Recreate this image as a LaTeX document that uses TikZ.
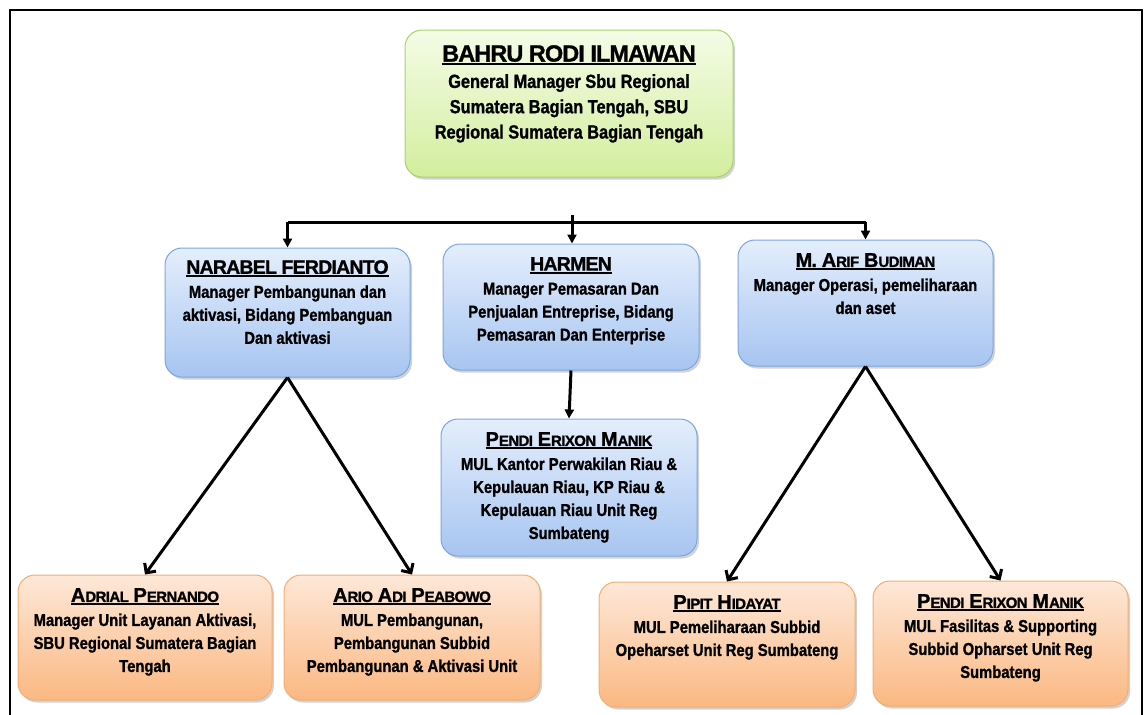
\documentclass[tikz,border=0pt]{standalone}
\usepackage{fontspec}
\setmainfont{Liberation Sans}
\newfontfamily\narf{Liberation Sans}[FakeStretch=0.86,FakeBold=1.2]
\newfontfamily\namef{Liberation Sans}[LetterSpace=-4,FakeBold=1.2]
\usetikzlibrary{arrows.meta,shadows}
\definecolor{bluetop}{HTML}{E4EEFC}
\definecolor{bluebot}{HTML}{A7C5F1}
\definecolor{blueline}{HTML}{7EA6DE}
\definecolor{greentop}{HTML}{F4FCE7}
\definecolor{greenbot}{HTML}{D3EE9E}
\definecolor{greenline}{HTML}{A9D36E}
\definecolor{orangetop}{HTML}{FDE8D8}
\definecolor{orangebot}{HTML}{FBB882}
\definecolor{orangeline}{HTML}{F3AE72}
\newcommand\nm[1]{{\setbox0\hbox{#1}\vtop{\copy0\kern1.2pt\hrule height1.8pt width\wd0}}}
\newcommand\smc[1]{{\fontsize{15}{15}\selectfont #1}}
\newcommand\bigname{\namef\fontsize{20}{20}\selectfont}
\begin{document}
\begin{tikzpicture}[x=1pt,y=-1pt,
  box/.style={rectangle, rounded corners=17pt, line width=1pt, inner sep=0pt,
    drop shadow={opacity=0.35, shadow xshift=2pt, shadow yshift=-2.5pt}},
  bluebox/.style={box, draw=blueline, top color=bluetop, bottom color=bluebot},
  greenbox/.style={box, draw=greenline, top color=greentop, bottom color=greenbot},
  orangebox/.style={box, draw=orangeline, top color=orangetop, bottom color=orangebot},
  txt/.style={align=center, inner sep=0pt, anchor=north,
    font=\narf\bfseries\fontsize{17.2}{23}\selectfont},
  toptxt/.style={txt, font=\narf\bfseries\fontsize{19}{25.3}\selectfont},
  conn/.style={line width=3pt, draw=black, line join=miter},
  varrow/.style={conn, -{Triangle[length=9pt,width=9pt]}},
  darrow/.style={conn, -{Straight Barb[length=7pt,width=14pt,line width=3pt]}}
]
\useasboundingbox (0,0) rectangle (1144,715);
\fill[white] (0,0) rectangle (1144,715);
% frame
\draw[line width=1.8pt] (10,716) -- (10,10) -- (1142,10) -- (1142,716);

% boxes
\node[greenbox, minimum width=328pt, minimum height=147pt] (top) at (569,103.5) {};
\node[bluebox, minimum width=245pt, minimum height=129pt] (nar) at (287.5,312.5) {};
\node[bluebox, minimum width=256pt, minimum height=126pt] (har) at (571,307) {};
\node[bluebox, minimum width=255pt, minimum height=126pt] (arif) at (865.5,303) {};
\node[bluebox, minimum width=256pt, minimum height=137pt] (pmid) at (569,487.5) {};
\node[orangebox, minimum width=254pt, minimum height=125pt] (adr) at (145,637.5) {};
\node[orangebox, minimum width=256pt, minimum height=125pt] (ario) at (412,637.5) {};
\node[orangebox, minimum width=256pt, minimum height=125pt] (pipit) at (727,644.5) {};
\node[orangebox, minimum width=255pt, minimum height=125pt] (pright) at (1000.5,643.5) {};

% texts
\node[toptxt] (topt) at (569,45) {\nm{\namef\fontsize{23.5}{23.5}\selectfont BAHRU RODI ILMAWAN}\\[1pt]
  General Manager Sbu Regional\\ Sumatera Bagian Tengah, SBU\\ Regional Sumatera Bagian Tengah};
\node[txt] (nart) at (287.5,260) {\nm{\namef\fontsize{19.5}{19.5}\selectfont NARABEL FERDIANTO}\\[1pt]
  Manager Pembangunan dan\\ aktivasi, Bidang Pembanguan\\ Dan aktivasi};
\node[txt] (hart) at (571,257) {\nm{\namef\fontsize{19.5}{19.5}\selectfont HARMEN}\\[1pt]
  Manager Pemasaran Dan\\ Penjualan Entreprise, Bidang\\ Pemasaran Dan Enterprise};
\node[txt] (arift) at (865.5,253) {\nm{\bigname M. A\smc{RIF} B\smc{UDIMAN}}\\[1pt]
  Manager Operasi, pemeliharaan\\ dan aset};
\node[txt] (pmidt) at (569,432) {\nm{\bigname P\smc{ENDI} E\smc{RIXON} M\smc{ANIK}}\\[1pt]
  MUL Kantor Perwakilan Riau \&\\ Kepulauan Riau, KP Riau \&\\ Kepulauan Riau Unit Reg\\ Sumbateng};
\node[txt] (adrt) at (145,588) {\nm{\bigname A\smc{DRIAL} P\smc{ERNANDO}}\\[1pt]
  Manager Unit Layanan Aktivasi,\\ SBU Regional Sumatera Bagian\\ Tengah};
\node[txt] (ariot) at (412,588) {\nm{\bigname A\smc{RIO} A\smc{DI} P\smc{EABOWO}}\\[1pt]
  MUL Pembangunan,\\ Pembangunan Subbid\\ Pembangunan \& Aktivasi Unit};
\node[txt] (pipitt) at (727,595) {\nm{\bigname P\smc{IPIT} H\smc{IDAYAT}}\\[1pt]
  MUL Pemeliharaan Subbid\\ Opeharset Unit Reg Sumbateng};
\node[txt] (prightt) at (1000.5,594) {\nm{\bigname P\smc{ENDI} E\smc{RIXON} M\smc{ANIK}}\\[1pt]
  MUL Fasilitas \& Supporting\\ Subbid Opharset Unit Reg\\ Sumbateng};

% connectors
\coordinate (bus) at (572,222);
\coordinate (bustop) at (572,215);
\draw[conn] (nar.north |- bus) -- (arif.north |- bus);
\draw[varrow] (nar.north |- bus) -- (nar.north);
\draw[varrow] (arif.north |- bus) -- (arif.north);
\draw[varrow] (bustop) -- (bustop |- har.north);
\draw[varrow] (har.south) -- (pmid.north);
\draw[darrow] (nar.south) -- (adr.north);
\draw[darrow] (nar.south) -- (ario.north);
\draw[darrow] (arif.south) -- (pipit.north);
\draw[darrow] (arif.south) -- (pright.north);
\end{tikzpicture}
\end{document}
